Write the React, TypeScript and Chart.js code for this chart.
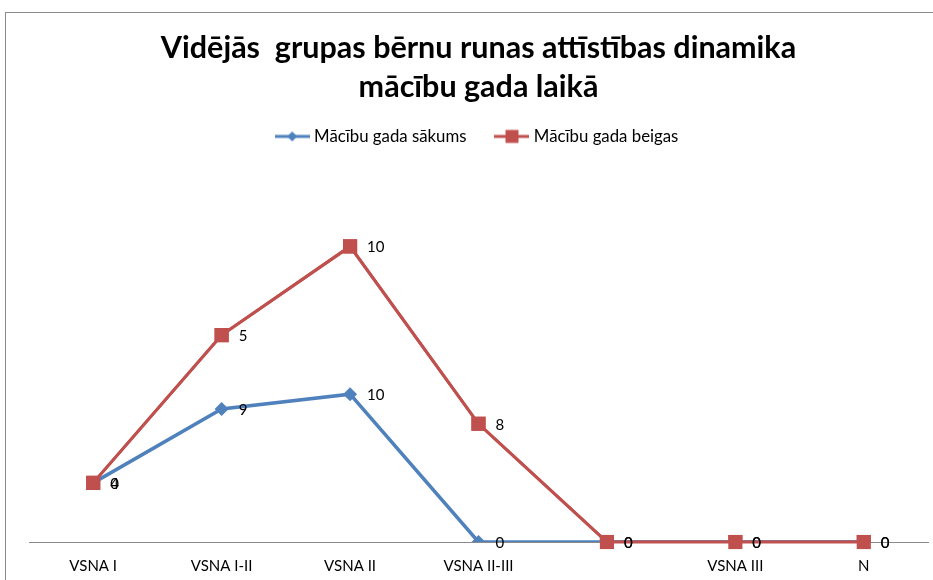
import React, { useEffect, useRef } from "react";
import { Chart, registerables } from "chart.js";

Chart.register(...registerables);

const categories = ["VSNA I", "VSNA I-II", "VSNA II", "VSNA II-III", "", "VSNA III", "N"];
const startValues = [4, 9, 10, 0, 0, 0, 0];
const endValues = [0, 5, 10, 8, 0, 0, 0];
const seriesNames = ["Mācību gada sākums", "Mācību gada beigas"];
const titleLines = ["Vidējās  grupas bērnu runas attīstības dinamika", "mācību gada laikā"];

const BLUE = "#4F81BD";
const RED = "#C0504D";
const FONT = "Lato";

function legendImage(color: string, style: string) {
  const w = 35;
  const c = document.createElement("canvas");
  c.width = w;
  c.height = 16;
  const g = c.getContext("2d")!;
  g.strokeStyle = color;
  g.lineWidth = 3;
  g.beginPath();
  g.moveTo(0, 8);
  g.lineTo(w, 8);
  g.stroke();
  g.fillStyle = color;
  const m = w / 2;
  if (style === "diamond") {
    g.beginPath();
    g.moveTo(m, 3);
    g.lineTo(m + 5, 8);
    g.lineTo(m, 13);
    g.lineTo(m - 5, 8);
    g.closePath();
    g.fill();
  } else {
    g.fillRect(m - 6.5, 1.5, 13, 13);
  }
  return c;
}

const frame = {
  id: "frame",
  beforeDraw(chart: any) {
    const ctx = chart.ctx;
    ctx.save();
    ctx.fillStyle = "#ffffff";
    ctx.fillRect(0, 0, chart.width, chart.height);
    ctx.strokeStyle = "#8a8a8a";
    ctx.lineWidth = 1;
    ctx.strokeRect(5.5, 12.5, 1000, 1000);
    ctx.restore();
  },
};

const labelsPlugin = {
  id: "valueLabels",
  afterDatasetsDraw(chart: any) {
    // draw second series again so it lies on top of the first
    const redMeta = chart.getDatasetMeta(1);
    if (redMeta && redMeta.controller) redMeta.controller.draw();
    const ctx = chart.ctx;
    ctx.save();
    ctx.font = `15px ${FONT}`;
    ctx.fillStyle = "#000000";
    ctx.textBaseline = "middle";
    ctx.textAlign = "left";
    chart.data.datasets.forEach((ds: any, di: number) => {
      const meta = chart.getDatasetMeta(di);
      meta.data.forEach((pt: any, i: number) => {
        ctx.fillText(String(ds.data[i]), pt.x + 17, pt.y + 1);
      });
    });
    ctx.restore();
  },
};

export default function App() {
  const ref = useRef<HTMLCanvasElement | null>(null);

  useEffect(() => {
    document.body.style.margin = "0";
    const imgs = [legendImage(BLUE, "diamond"), legendImage(RED, "square")];
    const chart = new Chart(ref.current!, {
      type: "line",
      data: {
        labels: categories,
        datasets: [
          {
            label: seriesNames[0],
            data: startValues,
            borderColor: BLUE,
            backgroundColor: BLUE,
            borderWidth: 3.5,
            pointStyle: "rectRot",
            pointRadius: 7,
            pointBorderWidth: 0,
            tension: 0,
            fill: false,
          },
          {
            label: seriesNames[1],
            data: endValues,
            borderColor: RED,
            backgroundColor: RED,
            borderWidth: 3,
            pointStyle: "rect",
            pointRadius: 10,
            pointBorderWidth: 0,
            tension: 0,
            fill: false,
          },
        ],
      },
      options: {
        responsive: false,
        animation: false,
        layout: { autoPadding: false, padding: { left: 29, right: 5, top: 0, bottom: 0 } },
        plugins: {
          title: {
            display: true,
            text: titleLines,
            color: "#000000",
            font: { family: FONT, size: 30.5, weight: "bold", lineHeight: 39 / 30.5 },
            padding: { top: 29, bottom: -11 },
          },
          legend: {
            display: true,
            position: "top",
            labels: {
              usePointStyle: true,
              pointStyleWidth: 27,
              padding: 32,
              color: "#000000",
              font: { family: FONT, size: 16.8 },
              generateLabels: (c: any) =>
                c.data.datasets.map((ds: any, i: number) => ({
                  text: ds.label,
                  pointStyle: imgs[i],
                  fillStyle: ds.borderColor,
                  strokeStyle: ds.borderColor,
                  lineWidth: 0,
                  hidden: false,
                  datasetIndex: i,
                  fontColor: "#000000",
                })),
            },
          },
          tooltip: { enabled: false },
        },
        scales: {
          x: {
            type: "category",
            offset: true,
            grid: { display: false, drawTicks: false },
            border: { display: true, color: "#8a8a8a", width: 1 },
            ticks: {
              color: "#000000",
              font: { family: FONT, size: 15 },
              padding: 15,
              autoSkip: false,
              maxRotation: 0,
            },
            afterFit: (scale: any) => {
              scale.height = 38;
            },
          },
          y: {
            display: false,
            stacked: true,
            min: 0,
            max: 26.2,
          },
        },
      },
      plugins: [frame, labelsPlugin],
    } as any);
    return () => chart.destroy();
  }, []);

  return (
    <div style={{ width: 933, height: 580 }}>
      <canvas ref={ref} width={933} height={580} style={{ display: "block" }} />
    </div>
  );
}
